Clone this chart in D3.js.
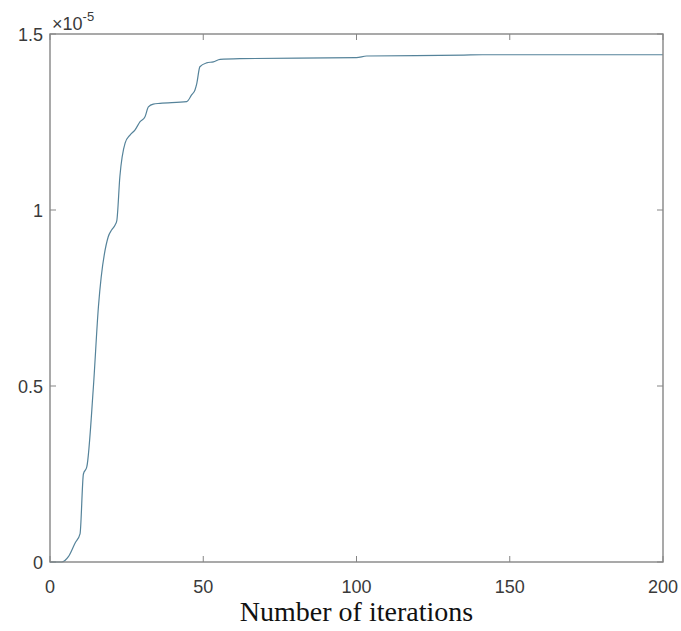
<!DOCTYPE html>
<html>
<head>
<meta charset="utf-8">
<script src="https://cdn.jsdelivr.net/npm/d3@7"></script>
<style>
    body { margin: 0; background: #fff; }
    svg { display: block; }
</style>
</head>
<body>
<div id="chart"></div>
<script>
// iterations and best value (in units of 1e-5)
const iterations = [
    0, 3.8, 6, 8.2, 9.8, 10.9, 12, 14.1, 15.8, 19, 20.1, 21.2, 21.8, 22.8,
    24.5, 26.1, 27.7, 29.4, 31, 32.1, 33.7, 35.9, 44.6, 46.2, 47.3, 47.9,
    48.9, 51.1, 53.3, 55.5, 62, 100, 103.3, 135, 141, 200
];
const values = [
    0, 0, 0.015, 0.054, 0.08, 0.25, 0.27, 0.49, 0.725, 0.924, 0.943, 0.957, 0.97, 1.095,
    1.19, 1.213, 1.227, 1.251, 1.265, 1.293, 1.301, 1.303, 1.308, 1.327, 1.341, 1.36,
    1.407, 1.418, 1.421, 1.428, 1.43, 1.433, 1.4375, 1.44, 1.441, 1.441
];
const xTicks = [0, 50, 100, 150, 200];
const yTicks = [0, 0.5, 1, 1.5];
const yTickLabels = ['0', '0.5', '1', '1.5'];

const width = 681;
const height = 631;
const margin = { left: 50, right: 18, top: 34, bottom: 69 };

const x = d3.scaleLinear().domain([0, 200]).range([margin.left, width - margin.right]);
const y = d3.scaleLinear().domain([0, 1.5]).range([height - margin.bottom, margin.top]);

const svg = d3.select('#chart')
    .append('svg')
    .attr('width', width)
    .attr('height', height);

const axisColor = '#858585';
const textColor = '#3a3a3a';

// tick marks drawn inward, on all four sides (box on)
const tickLen = 6;
const ticks = svg.append('g').attr('stroke', axisColor).attr('stroke-width', 1);

ticks.selectAll('.xb').data(xTicks).join('line')
    .attr('x1', d => x(d)).attr('x2', d => x(d))
    .attr('y1', y(0)).attr('y2', y(0) - tickLen);
ticks.selectAll('.xt').data(xTicks).join('line')
    .attr('x1', d => x(d)).attr('x2', d => x(d))
    .attr('y1', y(1.5)).attr('y2', y(1.5) + tickLen);
ticks.selectAll('.yl').data(yTicks).join('line')
    .attr('x1', x(0)).attr('x2', x(0) + tickLen)
    .attr('y1', d => y(d)).attr('y2', d => y(d));
ticks.selectAll('.yr').data(yTicks).join('line')
    .attr('x1', x(200)).attr('x2', x(200) - tickLen)
    .attr('y1', d => y(d)).attr('y2', d => y(d));

// data line
const line = d3.line()
    .x((d, i) => x(iterations[i]))
    .y(d => y(d))
    .curve(d3.curveMonotoneX);

svg.append('path')
    .datum(values)
    .attr('fill', 'none')
    .attr('stroke', '#55839a')
    .attr('stroke-width', 1.2)
    .attr('stroke-linejoin', 'round')
    .attr('d', line);

// box
svg.append('rect')
    .attr('x', x(0))
    .attr('y', y(1.5))
    .attr('width', x(200) - x(0))
    .attr('height', y(0) - y(1.5))
    .attr('fill', 'none')
    .attr('stroke', axisColor)
    .attr('stroke-width', 1.4);

// tick labels
svg.append('g').selectAll('text')
    .data(xTicks)
    .join('text')
    .attr('x', d => x(d))
    .attr('y', y(0) + 31)
    .attr('text-anchor', 'middle')
    .attr('font-family', 'Liberation Sans, Arial, sans-serif')
    .attr('font-size', 18)
    .attr('fill', textColor)
    .text(d => d);

svg.append('g').selectAll('text')
    .data(yTicks)
    .join('text')
    .attr('x', x(0) - 7)
    .attr('y', d => y(d) + 7)
    .attr('text-anchor', 'end')
    .attr('font-family', 'Liberation Sans, Arial, sans-serif')
    .attr('font-size', 18)
    .attr('fill', textColor)
    .text((d, i) => yTickLabels[i]);

// exponent
const expo = svg.append('text')
    .attr('x', x(0) + 2)
    .attr('y', y(1.5) - 4)
    .attr('font-family', 'Liberation Sans, Arial, sans-serif')
    .attr('font-size', 18)
    .attr('fill', textColor);
expo.append('tspan').text('\u00d710');
expo.append('tspan')
    .attr('font-size', 13)
    .attr('dy', -9)
    .text('-5');

// x label
svg.append('text')
    .attr('x', (x(0) + x(200)) / 2)
    .attr('y', 621)
    .attr('text-anchor', 'middle')
    .attr('font-family', 'Liberation Serif, Times New Roman, serif')
    .attr('font-size', 28)
    .attr('fill', '#111')
    .text('Number of iterations');
</script>
</body>
</html>
